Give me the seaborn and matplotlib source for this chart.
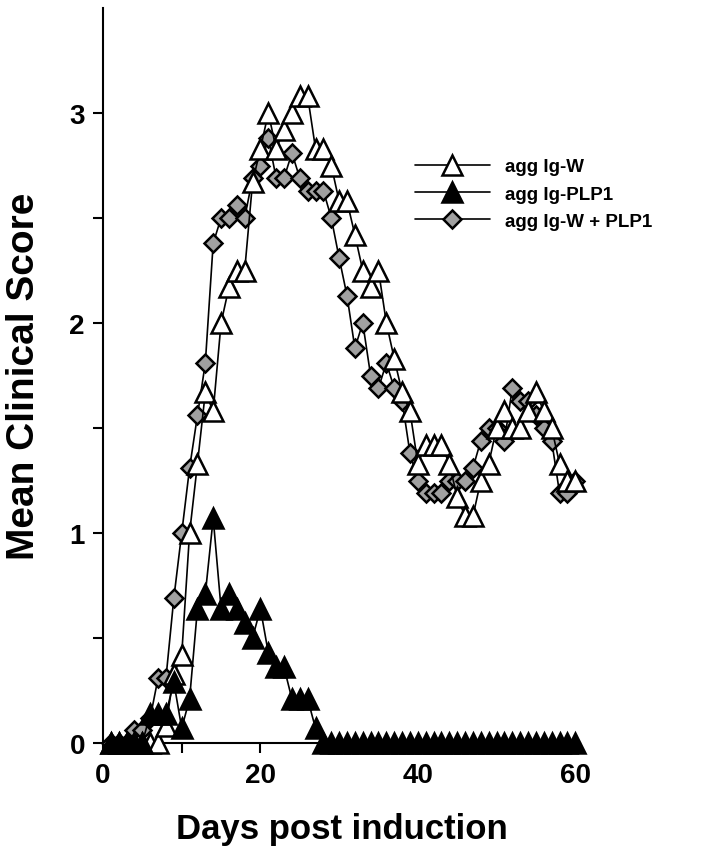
import numpy as np
import pandas as pd
import matplotlib
matplotlib.use("Agg")
import matplotlib.pyplot as plt
import seaborn as sns

# ========== podaci (ocitano sa slike) ==========
days = list(range(1, 61))

ig_w = [0, 0, 0, 0, 0, 0, 0, 0.08, 0.33, 0.42,
        1.0, 1.33, 1.67, 1.58, 2.0, 2.17, 2.25, 2.25, 2.67, 2.83,
        3.0, 2.83, 2.92, 3.0, 3.08, 3.08, 2.83, 2.83, 2.75, 2.58,
        2.58, 2.42, 2.25, 2.17, 2.25, 2.0, 1.83, 1.67, 1.58, 1.33,
        1.42, 1.42, 1.42, 1.33, 1.17, 1.08, 1.08, 1.25, 1.33, 1.5,
        1.58, 1.5, 1.5, 1.58, 1.67, 1.58, 1.5, 1.33, 1.25, 1.25]

ig_plp1 = [0, 0, 0, 0, 0, 0.14, 0.14, 0.14, 0.29, 0.07,
           0.21, 0.64, 0.71, 1.07, 0.64, 0.71, 0.64, 0.57, 0.5, 0.64,
           0.43, 0.36, 0.36, 0.21, 0.21, 0.21, 0.07] + [0] * 33

ig_w_plp1 = [0, 0, 0, 0.06, 0.06, 0.12, 0.31, 0.31, 0.69, 1.0,
             1.31, 1.56, 1.81, 2.38, 2.5, 2.5, 2.56, 2.5, 2.69, 2.75,
             2.88, 2.69, 2.69, 2.81, 2.69, 2.63, 2.63, 2.63, 2.5, 2.31,
             2.13, 1.88, 2.0, 1.75, 1.69, 1.81, 1.69, 1.63, 1.38, 1.25,
             1.19, 1.19, 1.19, 1.25, 1.25, 1.25, 1.31, 1.44, 1.5, 1.5,
             1.44, 1.69, 1.63, 1.63, 1.56, 1.5, 1.44, 1.19, 1.19, 1.25]

labels = ["agg Ig-W", "agg Ig-PLP1", "agg Ig-W + PLP1"]

df = pd.DataFrame({"day": days, "w": ig_w, "plp1": ig_plp1, "wplp1": ig_w_plp1})

# ========== stil ==========
sns.set_style("ticks")
plt.rcParams["font.family"] = ["Liberation Sans", "DejaVu Sans"]
plt.rcParams["font.weight"] = "bold"
plt.rcParams["text.color"] = "black"
plt.rcParams["axes.labelcolor"] = "black"

fig = plt.figure(figsize=(7.22, 8.53), dpi=100)
ax = fig.add_axes([103 / 722, 109 / 853, 477 / 722, 735 / 853])

common = dict(color="black", lw=1.2, mec="black", mew=1.8, clip_on=False)

# redosled crtanja: dijamanti, prazni, puni trouglovi
sns.lineplot(data=df, x="day", y="wplp1", ax=ax, marker="D", ms=9.5,
             mfc="#a0a0a0", label=labels[2], zorder=3, **common)
sns.lineplot(data=df, x="day", y="w", ax=ax, marker="^", ms=14,
             mfc="white", label=labels[0], zorder=4, **common)
sns.lineplot(data=df, x="day", y="plp1", ax=ax, marker="^", ms=14,
             mfc="black", label=labels[1], zorder=5, **common)

ax.set_xlim(0, 60.6)
ax.set_ylim(0, 3.5)

ax.set_xticks(np.arange(0, 61, 10))
ax.set_xticklabels(["0", "", "20", "", "40", "", "60"])
ax.set_yticks(np.arange(0, 3.01, 0.5))
ax.set_yticklabels(["0", "", "1", "", "2", "", "3"])
ax.tick_params(axis="both", direction="out", length=7, width=1.5,
               labelsize=20, colors="black")
ax.tick_params(axis="x", pad=7)
ax.tick_params(axis="y", pad=6)
for t in ax.get_xticklabels() + ax.get_yticklabels():
    t.set_fontweight("bold")

sns.despine(ax=ax)
ax.spines["left"].set_linewidth(1.5)
ax.spines["bottom"].set_linewidth(1.5)
ax.spines["left"].set_color("black")
ax.spines["bottom"].set_color("black")

ax.set_xlabel("Days post induction", fontsize=25, fontweight="bold",
              labelpad=17, color="black")
ax.set_ylabel("Mean Clinical Score", fontsize=28, fontweight="bold",
              labelpad=20, color="black")

# legenda - redosled kao na slici
h, l = ax.get_legend_handles_labels()
order = [l.index(lab) for lab in labels]
ax.legend([h[i] for i in order], [l[i] for i in order],
          loc="upper left", bbox_to_anchor=(415 / 722, 1 - 159 / 853),
          bbox_transform=fig.transFigure, frameon=False,
          prop={"size": 13.5, "weight": "bold"},
          handlelength=4.0, handletextpad=0.8, labelspacing=0.55,
          borderpad=0, borderaxespad=0)

fig.savefig("out.png", dpi=100)
plt.close()
